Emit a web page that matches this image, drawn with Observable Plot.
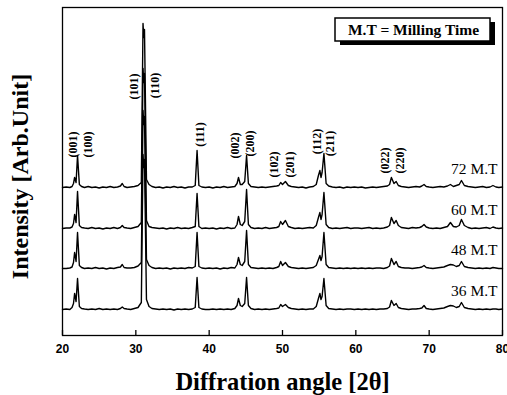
<!DOCTYPE html>
<html>
<head>
<meta charset="utf-8">
<script src="https://cdn.jsdelivr.net/npm/d3@7"></script>
<script src="https://cdn.jsdelivr.net/npm/@observablehq/plot@0.6"></script>
<style>
  body { margin: 0; background: #fff; }
</style>
</head>
<body>
<div id="chart"></div>
<script>
// Diffraction angle (2θ) of each vertex of the digitised patterns
const angles = [
  20, 20.5, 21, 21.3, 21.5, 21.65, 21.85, 22.05, 22.3, 22.6,
  23, 23.5, 24, 24.5, 25, 25.5, 26, 26.5, 27, 27.5,
  27.9, 28.15, 28.4, 28.8, 29.3, 29.8, 30.3, 30.75, 30.98, 31.08,
  31.18, 31.45, 31.8, 32.2, 32.7, 33.2, 33.7, 34.2, 34.7, 35.2,
  35.7, 36.2, 36.7, 37.2, 37.7, 38.1, 38.35, 38.6, 39, 39.5,
  40, 40.5, 41, 41.5, 42, 42.5, 43, 43.5, 43.8, 44.0,
  44.25, 44.5, 44.85, 45.1, 45.35, 45.7, 46.2, 46.7, 47.2, 47.7,
  48.2, 48.7, 49.2, 49.5, 49.75, 50.0, 50.4, 50.8, 51.2, 51.7,
  52.2, 52.7, 53.2, 53.7, 54.2, 54.6, 54.9, 55.1, 55.25, 55.4,
  55.65, 55.95, 56.3, 56.8, 57.3, 57.8, 58.3, 58.8, 59.3, 59.8,
  60.3, 60.8, 61.3, 61.8, 62.3, 62.8, 63.3, 63.8, 64.3, 64.6,
  64.85, 65.2, 65.5, 65.8, 66.2, 66.7, 67.2, 67.7, 68.2, 68.7,
  69.0, 69.3, 69.6, 70, 70.5, 71, 71.5, 72, 72.5, 72.9,
  73.3, 73.7, 74.1, 74.4, 74.8, 75.3, 75.8, 76.3, 76.8, 77.3,
  77.8, 78.3, 78.7, 79.1, 79.5, 80
];

// Intensity above each pattern's own baseline (arb. units)
const mt72 = [
  0, 0.5, 0, 1, 4, 10, 5, 32, 3, 1,
  0, 1, 0, 0.5, -0.5, 0.5, 0, 1, 0, 0.5,
  1.5, 4, 1, 0, 0.5, 1, 2, 5, 164, 150,
  158, 8, 3, 1, 0, 0.5, -0.5, 0.5, 0, 1,
  0, 0.5, -0.5, 0.5, 0.5, 2, 37, 2, 0.5, 0,
  0.5, -0.5, 0.5, 0, 1, 0, 0.5, 1, 4, 10,
  3, 3, 6, 32, 4, 1, 0.5, 0, 0.5, 0,
  0.5, 1, 1.5, 2, 5, 3, 6, 2, 1, 0.5,
  0, 0.5, -0.5, 0.5, 1, 3, 12, 17, 10, 15,
  34, 4, 1.5, 0.5, 0, 0.5, -0.5, 0.5, 0, 0.5,
  0, 0.5, -0.5, 0, 0.5, 0, 0.5, 1, 1.5, 3,
  10, 4, 6, 2, 1, 0.5, 0, 0.5, 1, 0.5,
  1.5, 3, 1, 0.5, 0, 0.5, 1, 0.5, 1.5, 3,
  1, 2, 3, 7, 2, 1, 0.5, 0, 0.5, 1,
  0, 0.5, 2, 0.5, 0, 0.5
];
const mt60 = [
  0, 0.5, 0.5, 1.5, 5, 14, 6, 37, 3, 1,
  0.5, 0, 1, 0, 0.5, -0.5, 0.5, 0, 1, 0,
  1, 3, 1, 0.5, 0, 1, 2, 6, 160, 146,
  155, 8, 2, 1, 0.5, 0, 0.5, -0.5, 0.5, 0,
  1, 0, 0.5, 0, 1, 2, 35, 2, 0, 0.5,
  0, 0.5, -0.5, 0.5, 0, 1, 0, 0.5, 4, 12,
  4, 3, 7, 39, 4, 1, 0, 0.5, 0, 1,
  0, 0.5, 1, 2, 7, 4, 8, 2, 1, 0,
  0.5, 0, 0.5, 1, 0.5, 3, 11, 16, 9, 14,
  36, 4, 1, 0, 0.5, 0, 0.5, 1, 0, 0.5,
  0.5, 0, 0.5, 1, 0, 0.5, 0, 0.5, 1.5, 3,
  11, 5, 8, 3, 1, 0.5, 0, 1, 0.5, 1,
  2, 4, 1.5, 0.5, 0, 0.5, 0, 1, 2, 6,
  2, 1.5, 3, 9, 3, 1, 0, 0.5, 0, 0.5,
  1, 0, 1.5, 0.5, 0, 0.5
];
const mt48 = [
  0, 0, 0.5, 1.5, 6, 16, 7, 36, 3, 1,
  0, 0.5, 0, 1, 0, 0.5, -0.5, 0.5, 0, 1,
  1.5, 4, 1, 0.5, 0.5, 1, 2.5, 6, 158, 144,
  152, 9, 3, 1, 0, 0.5, 0, 0.5, -0.5, 0.5,
  0, 0.5, 0, 1, 0.5, 2, 36, 2, 0.5, 0,
  0.5, 0, 0.5, -0.5, 0.5, 0, 1, 0.5, 4, 11,
  4, 3, 7, 38, 4, 1, 0.5, 0, 0.5, 0,
  0.5, 0, 1, 2, 7, 3, 6, 2, 1, 0.5,
  0, 0.5, 0, 0.5, 1, 3, 9, 13, 8, 12,
  36, 4, 1, 0.5, 0, 0.5, 0, 0.5, 0, 0.5,
  0, 0.5, 0, 0.5, 0, 0.5, 0.5, 0, 1, 2.5,
  10, 4, 7, 2, 1, 0.5, 0.5, 0, 0.5, 1,
  1.5, 3, 1, 0.5, 0, 0.5, 1, 1.5, 3, 4,
  3.5, 2, 3, 7, 2, 1, 0.5, 0, 0.5, 0,
  0.5, 0, 1, 0.5, 0, 0
];
const mt36 = [
  0, 0.5, 0, 2, 6, 16, 8, 31, 3, 1,
  0.5, 0, 0.5, 0, 1, 0, 0.5, 0, 0.5, 0,
  1, 2.5, 1, 0.5, 0, 1, 2, 7, 155, 142,
  150, 10, 3, 1, 0.5, 0, 0.5, 0, 0.5, -0.5,
  0.5, 0, 0.5, 0, 0.5, 2, 32, 2, 0.5, 0,
  0, 0.5, 0, 0.5, 0, 0.5, 0, 1, 4, 11,
  4, 3, 6, 32, 4, 1, 0, 0.5, 0, 0.5,
  0, 0.5, 1, 1.5, 5, 3, 5, 2, 1, 0.5,
  0, 0.5, 0, 0.5, 0.5, 3, 11, 16, 10, 13,
  31, 4, 1, 0.5, 0, 0.5, 0, 0.5, 0.5, 0,
  0.5, 0, 0.5, 0, 0.5, 0, 0.5, 0.5, 1, 2.5,
  9, 4, 6, 2, 1, 0.5, 0, 0.5, 0.5, 1,
  1.5, 4, 1, 0.5, 0, 0.5, 1, 1.5, 3, 4,
  3.5, 2, 3, 7, 2, 1, 0.5, 0, 0.5, 0,
  0.5, 0, 0.5, 0.5, 0, 0.5
];

const millingLabels = ["72 M.T", "60 M.T", "48 M.T", "36 M.T"];
const patterns = [mt72, mt60, mt48, mt36];
// vertical stacking offset of each pattern (arb. units)
const offsets = [148, 107, 67, 26];

const xTicks = [20, 30, 40, 50, 60, 70, 80];

// Miller indices of the reflections and where their labels sit
const hkl = ["(001)", "(100)", "(101)", "(110)", "(111)", "(002)", "(200)",
             "(102)", "(201)", "(112)", "(211)", "(022)", "(220)"];
const hklAngle = [21.46, 23.45, 29.72, 32.68, 38.72, 43.59, 45.54,
                  48.91, 51.0, 54.73, 56.55, 63.95, 66.1];
const hklLevel = [191, 191, 249, 250, 201, 190, 192, 171, 171, 194, 192, 175, 175];

const legendText = "M.T = Milling Time";

const serif = "'Liberation Serif', 'Times New Roman', serif";
const sans = "'Liberation Sans', Arial, sans-serif";

const W = 507, H = 395;
const margin = {left: 62, right: 5, top: 7, bottom: 60};

const rows = patterns.flatMap((vals, k) =>
  angles.slice(0, vals.length).map((a, i) => ({
    series: millingLabels[k],
    angle: a,
    intensity: vals[i] + offsets[k]
  }))
);

const seriesLabels = millingLabels.map((name, k) => ({name, level: offsets[k] + 18}));
const hklRows = hkl.map((t, i) => ({t, angle: hklAngle[i], level: hklLevel[i]}));

// Boxed legend with a solid drop shadow, anchored to the top-right of the frame
function legendBox() {
  const boxW = 155, boxH = 23;
  const x0 = W - margin.right - 12 - boxW;
  const y0 = margin.top + 11;
  const g = d3.create("svg:g");
  g.append("rect")
    .attr("x", x0 + 5).attr("y", y0 + 4).attr("width", boxW).attr("height", boxH)
    .attr("fill", "black");
  g.append("rect")
    .attr("x", x0).attr("y", y0).attr("width", boxW).attr("height", boxH)
    .attr("fill", "white").attr("stroke", "black").attr("stroke-width", 1.5);
  g.append("text")
    .attr("x", x0 + boxW / 2 + 1).attr("y", y0 + boxH / 2)
    .attr("dy", "0.35em")
    .attr("text-anchor", "middle")
    .attr("font-family", serif).attr("font-size", 15.5).attr("font-weight", "bold")
    .attr("fill", "black")
    .text(legendText);
  return g.node();
}

const chart = Plot.plot({
  width: W,
  height: H,
  marginLeft: margin.left,
  marginRight: margin.right,
  marginTop: margin.top,
  marginBottom: margin.bottom,
  x: {domain: [20, 80], axis: null},
  y: {domain: [0, 328], axis: null},
  style: {background: "white", overflow: "visible"},
  marks: [
    Plot.frame({stroke: "black", strokeWidth: 1.3}),
    Plot.ruleX(xTicks, {x: d => d, y1: 0, y2: 5, stroke: "black", strokeWidth: 1.3}),
    Plot.axisX({
      ticks: xTicks,
      tickSize: 0,
      tickPadding: 9,
      tickFormat: d => String(d),
      fontSize: 12,
      fontWeight: "bold",
      fontFamily: sans,
      fill: "black",
      label: null
    }),
    Plot.line(rows, {x: "angle", y: "intensity", z: "series", stroke: "black", strokeWidth: 1.4}),
    Plot.text(seriesLabels, {
      x: 80, y: "level", text: "name", dx: -5, textAnchor: "end",
      fontFamily: serif, fontSize: 15.5, fill: "black"
    }),
    Plot.text(hklRows, {
      x: "angle", y: "level", text: "t", rotate: -90,
      fontFamily: serif, fontSize: 12, fontWeight: "bold", fill: "black"
    }),
    legendBox,
    Plot.text(["Intensity [Arb.Unit]"], {
      frameAnchor: "left", dx: -42, dy: 5, rotate: -90, textAnchor: "middle",
      fontFamily: serif, fontSize: 24, fontWeight: "bold", fill: "black"
    }),
    Plot.text(["Diffration angle [2θ]"], {
      frameAnchor: "bottom", dy: 47, lineAnchor: "middle", textAnchor: "middle",
      fontFamily: serif, fontSize: 24.5, fontWeight: "bold", fill: "black"
    })
  ]
});

document.getElementById("chart").appendChild(chart);
</script>
</body>
</html>
